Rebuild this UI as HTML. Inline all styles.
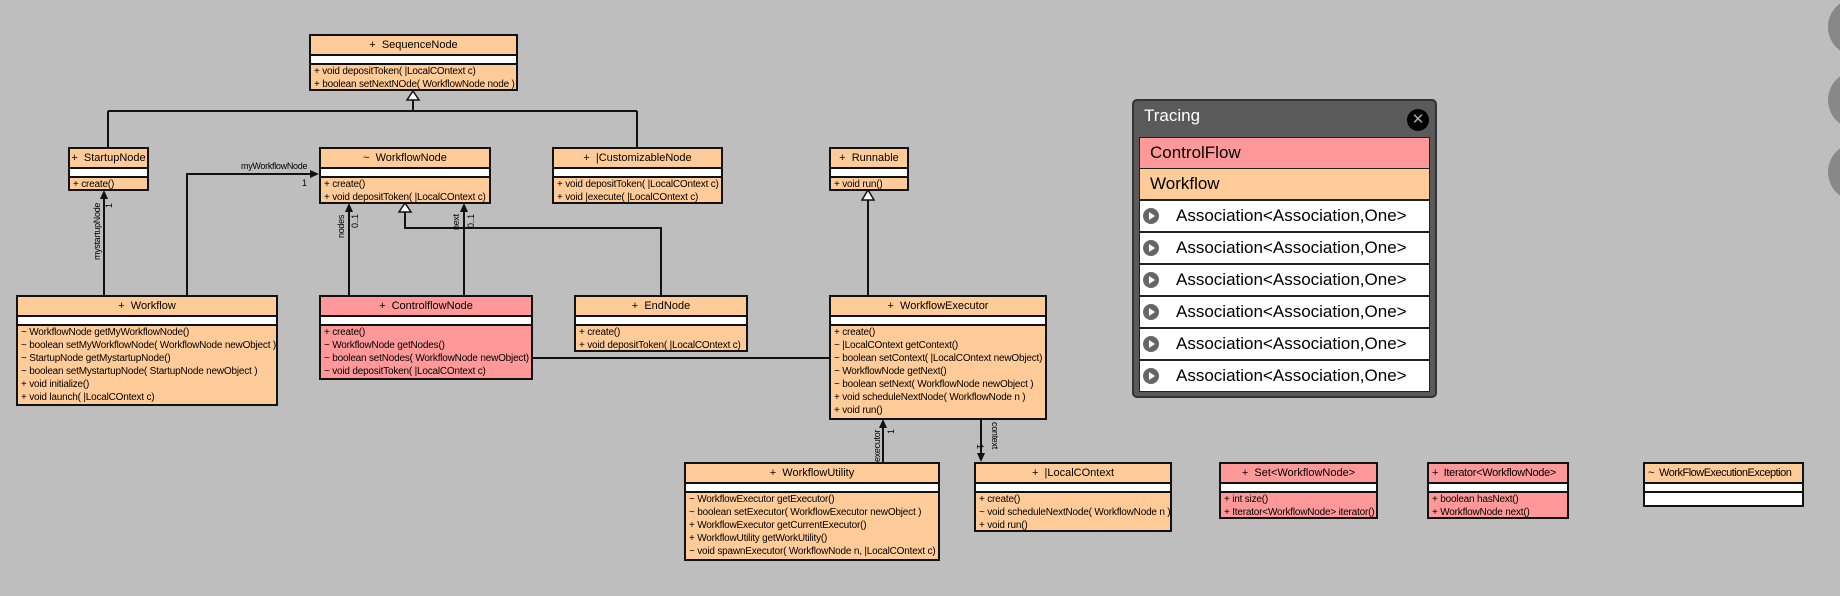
<!DOCTYPE html>
<html><head><meta charset="utf-8"><style>
body{margin:0;width:1840px;height:596px;background:#bebebe;position:relative;overflow:hidden;font-family:"Liberation Sans",sans-serif;}
.b{position:absolute;box-sizing:border-box;border:2px solid #111;background:#ffcc99;font-size:10px;color:#000;overflow:hidden;}
.b.p{background:#ff9999;}
.h{height:18px;line-height:18px;text-align:center;border-bottom:2px solid #111;font-size:11px;white-space:nowrap;}
.w{height:7px;background:#fff;border-bottom:2px solid #111;}
.r{height:13px;line-height:13px;padding-left:3px;white-space:nowrap;letter-spacing:-0.2px;}
.wf{background:#fff;}
svg{position:absolute;left:0;top:0;}
.lb{position:absolute;font-size:9px;white-space:nowrap;letter-spacing:-0.3px;}
.rot{transform:rotate(-90deg);transform-origin:left top;}
.rot2{transform:rotate(90deg);transform-origin:left top;}
#tr{position:absolute;left:1132px;top:99px;width:305px;height:299px;background:#5a5a5a;border:2px solid #333;border-radius:5px;box-sizing:border-box;}
#tr .t{position:absolute;left:10px;top:5px;color:#fff;font-size:17px;}
#tr .x{position:absolute;right:6px;top:8px;width:22px;height:22px;border-radius:50%;background:#000;color:#aaa;font-size:15px;line-height:22px;text-align:center;}
.tr{position:absolute;left:5px;width:291px;box-sizing:border-box;border:1px solid #222;font-size:17px;height:32px;line-height:30px;}
.ic{position:absolute;left:3px;top:7px;width:16px;height:16px;border-radius:50%;background:#666;}
.ic:after{content:"";position:absolute;left:6px;top:4px;border-left:6px solid #fff;border-top:4px solid transparent;border-bottom:4px solid transparent;}
.c{position:absolute;width:58px;height:58px;border-radius:50%;background:#888;}
</style></head><body>

<div class="c" style="left:1828px;top:-2px"></div>
<div class="c" style="left:1828px;top:71px"></div>
<div class="c" style="left:1828px;top:143px"></div>

<svg width="1840" height="596">
<g stroke="#111" stroke-width="2" fill="none">
<path d="M413 100 V111 M108 111 H637 M108 111 V147 M637 111 V147"/>
<path d="M405 212 V228 H661 V295"/>
<path d="M349 295 V205"/>
<path d="M464 205 V358 H829"/>
<path d="M187 295 V174 H317"/>
<path d="M104 295 V192"/>
<path d="M868 295 V200"/>
<path d="M883 462 V421"/>
<path d="M981 419 V460"/>
</g>
<g fill="#fff" stroke="#111" stroke-width="1.5">
<path d="M413 91 L407 100 L419 100 Z"/>
<path d="M405 203 L399 212 L411 212 Z"/>
<path d="M868 190 L862 200 L874 200 Z"/>
</g>
<g fill="#111">
<path d="M349 203 L345 212 L353 212 Z"/>
<path d="M464 203 L460 212 L468 212 Z"/>
<path d="M319 174 L310 170 L310 178 Z"/>
<path d="M104 190 L100 199 L108 199 Z"/>
<path d="M883 419 L879 428 L887 428 Z"/>
<path d="M981 462 L977 453 L985 453 Z"/>
</g>
</svg>

<div class="lb" style="left:241px;top:161px">myWorkflowNode</div>
<div class="lb" style="left:302px;top:178px">1</div>
<div class="lb rot" style="left:92px;top:260px">mystartupNode</div>
<div class="lb rot" style="left:104px;top:208px">1</div>
<div class="lb rot" style="left:336px;top:238px">nodes</div>
<div class="lb rot" style="left:350px;top:228px">0..1</div>
<div class="lb rot" style="left:451px;top:230px">next</div>
<div class="lb rot" style="left:466px;top:228px">0..1</div>
<div class="lb rot" style="left:872px;top:462px">executor</div>
<div class="lb rot" style="left:886px;top:434px">1</div>
<div class="lb rot2" style="left:1000px;top:422px">context</div>
<div class="lb rot2" style="left:985px;top:444px">1</div>

<div class="b" style="left:309px;top:34px;width:209px;height:57px"><div class="h">+ &nbsp;SequenceNode</div><div class="w"></div><div class="r">+ void depositToken( |LocalCOntext c)</div><div class="r">+ boolean setNextNOde( WorkflowNode node )</div></div>

<div class="b" style="left:68px;top:147px;width:81px;height:44px"><div class="h">+ &nbsp;StartupNode</div><div class="w"></div><div class="r">+ create()</div></div>

<div class="b" style="left:319px;top:147px;width:172px;height:57px"><div class="h">~ &nbsp;WorkflowNode</div><div class="w"></div><div class="r">+ create()</div><div class="r">+ void depositToken( |LocalCOntext c)</div></div>

<div class="b" style="left:552px;top:147px;width:171px;height:57px"><div class="h">+ &nbsp;|CustomizableNode</div><div class="w"></div><div class="r">+ void depositToken( |LocalCOntext c)</div><div class="r">+ void |execute( |LocalCOntext c)</div></div>

<div class="b" style="left:829px;top:147px;width:80px;height:44px"><div class="h">+ &nbsp;Runnable</div><div class="w"></div><div class="r">+ void run()</div></div>

<div class="b" style="left:16px;top:295px;width:262px;height:111px"><div class="h">+ &nbsp;Workflow</div><div class="w"></div><div class="r">~ WorkflowNode getMyWorkflowNode()</div><div class="r">~ boolean setMyWorkflowNode( WorkflowNode newObject )</div><div class="r">~ StartupNode getMystartupNode()</div><div class="r">~ boolean setMystartupNode( StartupNode newObject )</div><div class="r">+ void initialize()</div><div class="r">+ void launch( |LocalCOntext c)</div></div>

<div class="b p" style="left:319px;top:295px;width:214px;height:85px"><div class="h">+ &nbsp;ControlflowNode</div><div class="w"></div><div class="r">+ create()</div><div class="r">~ WorkflowNode getNodes()</div><div class="r">~ boolean setNodes( WorkflowNode newObject)</div><div class="r">~ void depositToken( |LocalCOntext c)</div></div>

<div class="b" style="left:574px;top:295px;width:174px;height:57px"><div class="h">+ &nbsp;EndNode</div><div class="w"></div><div class="r">+ create()</div><div class="r">+ void depositToken( |LocalCOntext c)</div></div>

<div class="b" style="left:829px;top:295px;width:218px;height:125px"><div class="h">+ &nbsp;WorkflowExecutor</div><div class="w"></div><div class="r">+ create()</div><div class="r">~ |LocalCOntext getContext()</div><div class="r">~ boolean setContext( |LocalCOntext newObject)</div><div class="r">~ WorkflowNode getNext()</div><div class="r">~ boolean setNext( WorkflowNode newObject )</div><div class="r">+ void scheduleNextNode( WorkflowNode n )</div><div class="r">+ void run()</div></div>

<div class="b" style="left:684px;top:462px;width:256px;height:99px"><div class="h">+ &nbsp;WorkflowUtility</div><div class="w"></div><div class="r">~ WorkflowExecutor getExecutor()</div><div class="r">~ boolean setExecutor( WorkflowExecutor newObject )</div><div class="r">+ WorkflowExecutor getCurrentExecutor()</div><div class="r">+ WorkflowUtility getWorkUtility()</div><div class="r">~ void spawnExecutor( WorkflowNode n, |LocalCOntext c)</div></div>

<div class="b" style="left:974px;top:462px;width:198px;height:70px"><div class="h">+ &nbsp;|LocalCOntext</div><div class="w"></div><div class="r">+ create()</div><div class="r">~ void scheduleNextNode( WorkflowNode n )</div><div class="r">+ void run()</div></div>

<div class="b p" style="left:1219px;top:462px;width:159px;height:57px"><div class="h">+ &nbsp;Set&lt;WorkflowNode&gt;</div><div class="w"></div><div class="r">+ int size()</div><div class="r">+ Iterator&lt;WorkflowNode&gt; iterator()</div></div>

<div class="b p" style="left:1427px;top:462px;width:142px;height:57px"><div class="h" style="text-align:left;padding-left:3px;letter-spacing:-0.3px">+ &nbsp;Iterator&lt;WorkflowNode&gt;</div><div class="w"></div><div class="r">+ boolean hasNext()</div><div class="r">+ WorkflowNode next()</div></div>

<div class="b" style="left:1643px;top:462px;width:161px;height:45px;background:#fff"><div class="h" style="text-align:left;padding-left:3px;letter-spacing:-0.5px;background:#ffcc99">~ &nbsp;WorkFlowExecutionException</div><div class="w"></div></div>

<div id="tr"><div class="t">Tracing</div><div class="x">✕</div>
<div class="tr" style="top:36px;background:#ff9999;padding-left:10px">ControlFlow</div>
<div class="tr" style="top:67px;background:#ffcc99;padding-left:10px">Workflow</div>
<div class="tr" style="top:99px;background:#fff;padding-left:36px"><span class="ic"></span>Association&lt;Association,One&gt;</div>
<div class="tr" style="top:131px;background:#fff;padding-left:36px"><span class="ic"></span>Association&lt;Association,One&gt;</div>
<div class="tr" style="top:163px;background:#fff;padding-left:36px"><span class="ic"></span>Association&lt;Association,One&gt;</div>
<div class="tr" style="top:195px;background:#fff;padding-left:36px"><span class="ic"></span>Association&lt;Association,One&gt;</div>
<div class="tr" style="top:227px;background:#fff;padding-left:36px"><span class="ic"></span>Association&lt;Association,One&gt;</div>
<div class="tr" style="top:259px;background:#fff;padding-left:36px"><span class="ic"></span>Association&lt;Association,One&gt;</div>
</div>
</body></html>
